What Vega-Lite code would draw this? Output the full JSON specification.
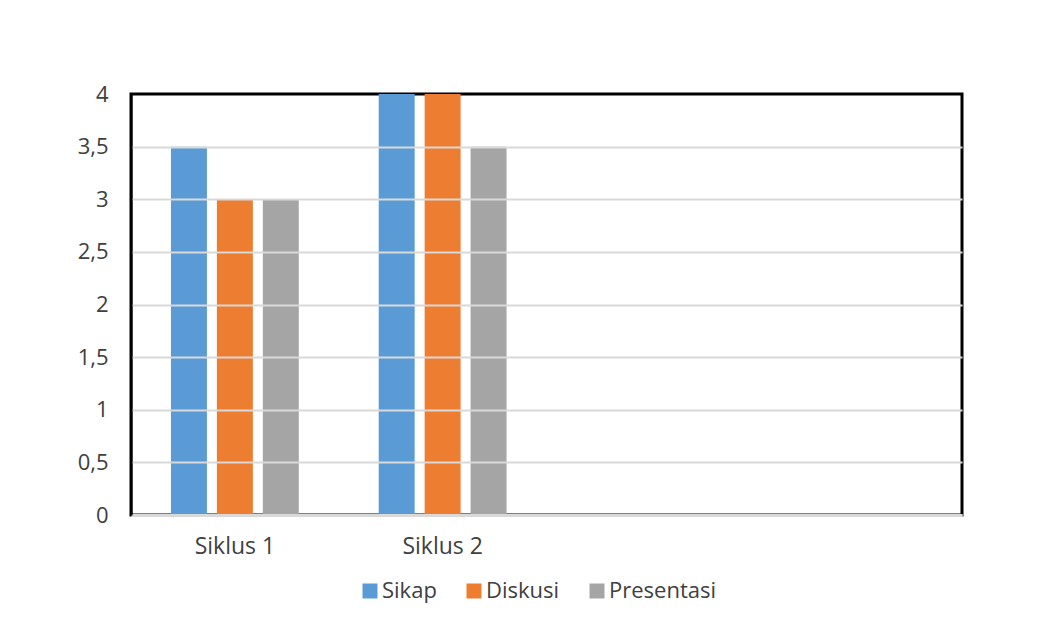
{
  "$schema": "https://vega.github.io/schema/vega-lite/v6.json",
  "width": 831,
  "height": 421,
  "autosize": {"type": "none"},
  "padding": {"left": 131, "top": 94, "right": 95, "bottom": 116},
  "background": "white",
  "data": {
    "values": [
      {"siklus": "Siklus 1", "kategori": "Sikap", "nilai": 3.5},
      {"siklus": "Siklus 1", "kategori": "Diskusi", "nilai": 3},
      {"siklus": "Siklus 1", "kategori": "Presentasi", "nilai": 3},
      {"siklus": "Siklus 2", "kategori": "Sikap", "nilai": 4},
      {"siklus": "Siklus 2", "kategori": "Diskusi", "nilai": 4},
      {"siklus": "Siklus 2", "kategori": "Presentasi", "nilai": 3.5}
    ]
  },
  "mark": {"type": "bar"},
  "encoding": {
    "x": {
      "field": "siklus",
      "type": "nominal",
      "scale": {"domain": ["Siklus 1", "Siklus 2", "c3", "c4"], "paddingInner": 0, "paddingOuter": 0},
      "axis": {
        "title": null,
        "labelAngle": 0,
        "labelExpr": "indexof(datum.label, 'Siklus') >= 0 ? datum.label : ''",
        "ticks": false,
        "labelPadding": 20,
        "labelBaseline": "top",
        "labelFont": "Open Sans",
        "labelFontSize": 23,
        "labelColor": "#404040",
        "domainColor": "#d9d9d9",
        "domainWidth": 3,
        "zindex": 1
      }
    },
    "xOffset": {
      "field": "kategori",
      "type": "nominal",
      "sort": ["Sikap", "Diskusi", "Presentasi"],
      "scale": {"paddingInner": 0.217, "paddingOuter": 0.87}
    },
    "y": {
      "field": "nilai",
      "type": "quantitative",
      "scale": {"domain": [0, 4], "nice": false},
      "axis": {
        "title": null,
        "values": [0, 0.5, 1, 1.5, 2, 2.5, 3, 3.5, 4],
        "labelExpr": "replace(format(datum.value, '~g'), '.', ',')",
        "ticks": false,
        "labelPadding": 23,
        "labelFont": "Open Sans",
        "labelFontSize": 22,
        "labelColor": "#404040",
        "domainColor": "black",
        "domainWidth": 2,
        "gridColor": "#d9d9d9",
        "gridWidth": 2,
        "gridOpacity": {"condition": {"test": "datum.value >= 4", "value": 0}, "value": 1},
        "zindex": 1
      }
    },
    "color": {
      "field": "kategori",
      "type": "nominal",
      "sort": ["Sikap", "Diskusi", "Presentasi"],
      "scale": {"domain": ["Sikap", "Diskusi", "Presentasi"], "range": ["#5B9BD5", "#ED7D31", "#A5A5A5"]},
      "legend": {
        "title": null,
        "orient": "none",
        "direction": "horizontal",
        "legendX": 228,
        "legendY": 486,
        "symbolType": "square",
        "symbolSize": 225,
        "symbolStrokeWidth": 0,
        "symbolOpacity": 1,
        "labelFont": "Open Sans",
        "labelFontSize": 22,
        "labelColor": "#404040",
        "labelOffset": 1,
        "columnPadding": 26
      }
    }
  },
  "config": {
    "view": {"stroke": "black", "strokeWidth": 3}
  }
}
